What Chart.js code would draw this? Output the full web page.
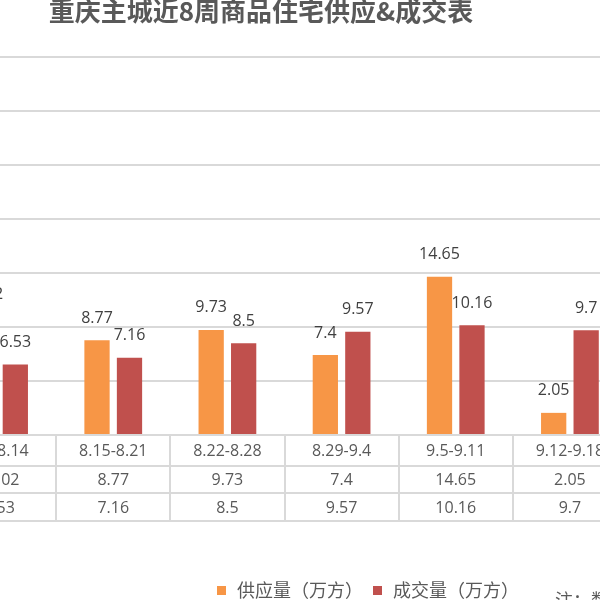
<!DOCTYPE html>
<html>
<head>
<meta charset="utf-8">
<script src="https://cdn.jsdelivr.net/npm/chart.js@4"></script>
<style>
html,body{margin:0;padding:0;width:600px;height:600px;overflow:hidden;background:#fff;}
#wrap{position:absolute;left:-100px;top:0;width:760px;height:600px;}
</style>
</head>
<body>
<div id="wrap"><canvas id="c"></canvas></div>
<script>
const titleText = '重庆主城近8周商品住宅供应&成交表';
const categories = ['8.8-8.14', '8.15-8.21', '8.22-8.28', '8.29-9.4', '9.5-9.11', '9.12-9.18'];
const supplyLabel = '供应量（万方）';
const dealLabel = '成交量（万方）';
const supply = [11.02, 8.77, 9.73, 7.4, 14.65, 2.05];
const deal = [6.53, 7.16, 8.5, 9.57, 10.16, 9.7];
const noteText = '注：数据来源';

const ORANGE = '#F79646', RED = '#C0504D', GRID = '#D9D9D9', TXT = '#595959';
const NUM_FONT = '16px "Open Sans", "Noto Sans CJK SC", sans-serif';
const CJK_FONT = '18px "Noto Sans CJK SC", sans-serif';

// wrapper offset (page x = canvas x + offsetX)
const offsetX = -100;

const extras = {
  id: 'extras',
  afterDatasetsDraw(chart) {
    const ctx = chart.ctx;
    const ca = chart.chartArea;
    const xs = chart.scales.x;
    ctx.save();
    // bar value labels
    ctx.font = NUM_FONT;
    ctx.fillStyle = '#404040';
    ctx.textAlign = 'center';
    ctx.textBaseline = 'middle';
    chart.data.datasets.forEach((ds, di) => {
      const meta = chart.getDatasetMeta(di);
      meta.data.forEach((bar, i) => {
        ctx.fillText(String(ds.data[i]), bar.x, bar.y - 22);
      });
    });
    // data table
    const rows = [435, 466, 493, 521];
    const cw = (ca.right - ca.left) / categories.length;
    ctx.strokeStyle = GRID;
    ctx.lineWidth = 2;
    ctx.beginPath();
    for (let r = 1; r < rows.length; r++) {
      ctx.moveTo(ca.left, rows[r]);
      ctx.lineTo(ca.right, rows[r]);
    }
    for (let i = 0; i <= categories.length; i++) {
      const x = Math.round(ca.left + i * cw);
      ctx.moveTo(x, rows[0]);
      ctx.lineTo(x, rows[3]);
    }
    ctx.stroke();
    ctx.fillStyle = TXT;
    ctx.font = NUM_FONT;
    categories.forEach((c, i) => {
      const x = xs.getPixelForValue(i);
      ctx.fillText(c, x, 451);
      ctx.fillText(String(supply[i]), x, 480);
      ctx.fillText(String(deal[i]), x, 508);
    });
    // title
    ctx.font = 'bold 26px "Noto Sans CJK SC", sans-serif';
    ctx.fillStyle = TXT;
    ctx.fillText(titleText, 261 - offsetX, 11);
    // legend
    ctx.font = CJK_FONT;
    ctx.textAlign = 'left';
    const items = [[supplyLabel, ORANGE, 217], [dealLabel, RED, 373]];
    items.forEach(([t, col, px]) => {
      ctx.fillStyle = col;
      ctx.fillRect(px - offsetX, 586, 9, 9);
      ctx.fillStyle = TXT;
      ctx.fillText(t, px - offsetX + 20, 590);
    });
    ctx.fillText(noteText, 555 - offsetX, 600);
    ctx.restore();
  }
};

new Chart(document.getElementById('c'), {
  type: 'bar',
  data: {
    labels: categories,
    datasets: [
      { label: supplyLabel, data: supply, backgroundColor: ORANGE, categoryPercentage: 0.569, barPercentage: 0.778 },
      { label: dealLabel, data: deal, backgroundColor: RED, categoryPercentage: 0.569, barPercentage: 0.778 }
    ]
  },
  options: {
    responsive: true,
    maintainAspectRatio: false,
    animation: false,
    layout: { padding: { left: 42, right: 33, top: 57, bottom: 165 } },
    plugins: { legend: { display: false }, title: { display: false }, tooltip: { enabled: false } },
    scales: {
      x: { display: true, grid: { display: false, drawTicks: false }, border: { display: false }, ticks: { display: false } },
      y: { min: 0, max: 35, ticks: { stepSize: 5, display: false }, grid: { color: GRID, lineWidth: 2, drawTicks: false }, border: { display: false } }
    }
  },
  plugins: [extras]
});
</script>
</body>
</html>
